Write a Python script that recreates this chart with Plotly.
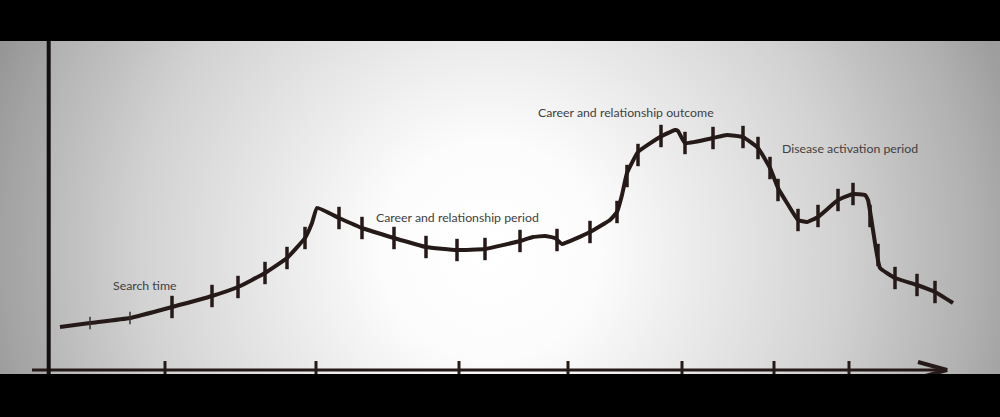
import base64
import plotly.graph_objects as go

# ---- data (x in timeline units, y = level above baseline) ----
curve_x = [60, 90, 130, 172, 212, 238, 265, 287, 305, 312, 317, 339, 362, 394, 426, 457, 485,
           520, 533, 545, 555, 562, 590, 610, 617, 622, 627, 638, 660, 675, 678, 685, 713, 727,
           743, 758, 770, 778, 787, 798, 807, 818, 838, 853, 865, 868, 871, 875, 880, 895, 917,
           935, 953]
curve_py = [327, 323, 318, 307, 296, 287, 273, 258, 238, 223, 208, 218, 228, 238, 247, 250, 249,
            241, 237, 236, 238, 244, 232, 220, 212, 195, 173, 152, 137, 130, 131, 143, 138, 135,
            137, 148, 168, 188, 203, 220, 222, 217, 200, 194, 195, 200, 217, 243, 268, 278, 285,
            292, 303]
curve_y = [370 - p for p in curve_py]

mark_small_x = [90, 130]
mark_small_py = [323, 318]
mark_x = [172, 212, 238, 265, 287, 305, 339, 362, 394, 426, 457, 485, 520, 557, 590, 617, 627,
          638, 661, 685, 713, 743, 758, 770, 778, 798, 818, 838, 853, 870, 878, 895, 917, 935]
mark_py = [307, 296, 287, 273, 258, 238, 218, 228, 238, 247, 250, 249, 241, 240, 232, 212, 176,
           155, 136, 143, 138, 137, 148, 168, 190, 220, 216, 200, 194, 216, 255, 278, 285, 292]
mark_small_y = [370 - p for p in mark_small_py]
mark_y = [370 - p for p in mark_py]

axis_ticks = [165, 316, 459, 568, 682, 774, 849]

labels = ["Search time", "Career and relationship period",
          "Career and relationship outcome", "Disease activation period"]
label_x = [144.5, 457.5, 625.5, 849.5]
label_y = [85, 153, 258, 222]

X_MIN, X_MAX = 0, 1000
Y_MIN, Y_MAX = -4, 329
AXIS_X0, AXIS_X1 = 32, 947

INK = "#261a18"

# ---- background gradient ----
svg = ('<svg xmlns="http://www.w3.org/2000/svg" width="1000" height="333" viewBox="0 0 1000 333" '
       'preserveAspectRatio="none"><defs><radialGradient id="g" gradientUnits="userSpaceOnUse" '
       'cx="490" cy="210" r="540">'
       '<stop offset="0" stop-color="#ffffff"/>'
       '<stop offset="0.2" stop-color="#fcfcfc"/>'
       '<stop offset="0.45" stop-color="#e5e5e5"/>'
       '<stop offset="0.65" stop-color="#d2d2d2"/>'
       '<stop offset="0.8" stop-color="#bdbdbd"/>'
       '<stop offset="0.9" stop-color="#b0b0b0"/>'
       '<stop offset="1" stop-color="#9e9e9e"/>'
       '</radialGradient></defs><rect width="1000" height="333" fill="url(#g)"/></svg>')
bg_src = "data:image/svg+xml;base64," + base64.b64encode(svg.encode()).decode()

fig = go.Figure()

# x-axis tick marks
tx, ty = [], []
for t in axis_ticks:
    tx += [t, t, None]
    ty += [9, -8, None]
fig.add_trace(go.Scatter(x=tx, y=ty, mode="lines", line=dict(color=INK, width=3),
                         hoverinfo="skip", showlegend=False))

# x-axis line with arrow
fig.add_trace(go.Scatter(x=[AXIS_X0, AXIS_X1], y=[0, 0], mode="lines",
                         line=dict(color=INK, width=3), hoverinfo="skip", showlegend=False))
fig.add_trace(go.Scatter(x=[AXIS_X1 - 29, AXIS_X1, AXIS_X1 - 29], y=[8, 0, -8], mode="lines",
                         line=dict(color=INK, width=4), hoverinfo="skip", showlegend=False))

# main curve
fig.add_trace(go.Scatter(x=curve_x, y=curve_y, mode="lines",
                         line=dict(color=INK, width=4, shape="spline", smoothing=0.35),
                         hoverinfo="skip", showlegend=False))

# tick marks on the curve
fig.add_trace(go.Scatter(x=mark_x, y=mark_y, mode="markers",
                         marker=dict(symbol="line-ns", size=16, line=dict(color=INK, width=3.5)),
                         hoverinfo="skip", showlegend=False))
fig.add_trace(go.Scatter(x=mark_small_x, y=mark_small_y, mode="markers",
                         marker=dict(symbol="line-ns", size=9, line=dict(color="#3a3030", width=1.5)),
                         hoverinfo="skip", showlegend=False))

for txt, lx, ly in zip(labels, label_x, label_y):
    fig.add_annotation(x=lx, y=ly, text=txt, showarrow=False, xref="x", yref="y",
                       font=dict(family="Lato", size=12.3, color="#404040"))

fig.update_layout(
    width=1000, height=417,
    margin=dict(l=0, r=0, t=41, b=43, pad=0),
    paper_bgcolor="#000000",
    plot_bgcolor="rgba(0,0,0,0)",
    xaxis=dict(range=[X_MIN, X_MAX], visible=False, fixedrange=True),
    yaxis=dict(range=[Y_MIN, Y_MAX], visible=False, fixedrange=True),
    images=[dict(source=bg_src, xref="paper", yref="paper", x=0, y=1, sizex=1, sizey=1,
                 sizing="stretch", xanchor="left", yanchor="top", layer="below")],
    shapes=[
        dict(type="rect", xref="x", yref="paper", x0=X_MIN, x1=48.7, y0=0, y1=1,
             fillcolor="rgba(0,0,0,0.07)", line=dict(width=0), layer="below"),
        dict(type="line", xref="x", yref="paper", x0=48.7, x1=48.7, y0=0, y1=1,
             line=dict(color="#151010", width=4)),
    ],
)

fig.write_html("out.html", config={"displayModeBar": False},
               post_script="document.body.style.margin='0';document.body.style.background='#000';")
